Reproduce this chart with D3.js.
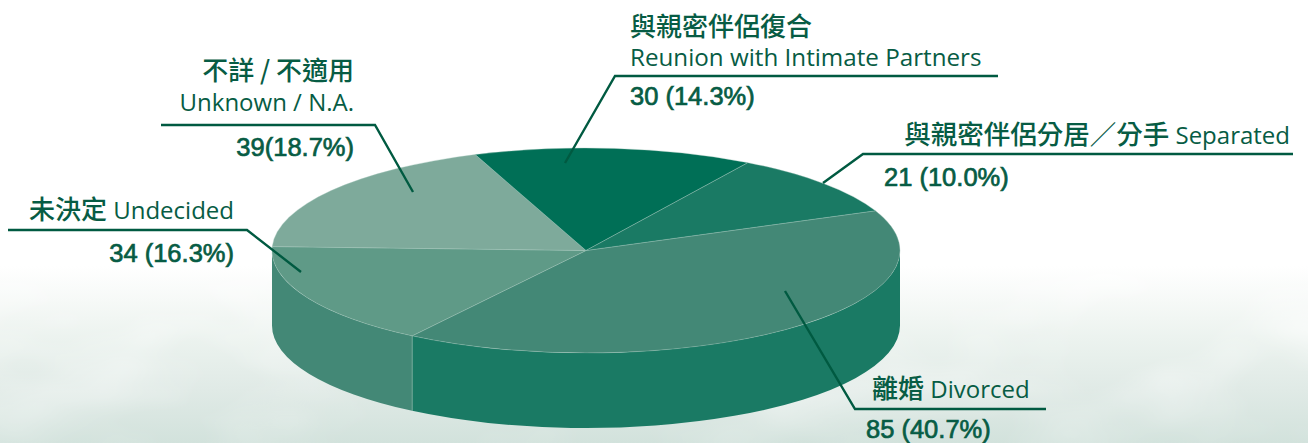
<!DOCTYPE html>
<html><head><meta charset="utf-8">
<script src="https://cdn.jsdelivr.net/npm/d3@7/dist/d3.min.js"></script>
<style>html,body{margin:0;padding:0;background:#fff}svg{display:block}</style>
</head><body><svg id="c" width="1308" height="443"></svg>
<script>
const categories = ["離婚 Divorced","未決定 Undecided","不詳 / 不適用 Unknown / N.A.","與親密伴侶復合 Reunion with Intimate Partners","與親密伴侶分居／分手 Separated"];
const counts = [85,34,39,30,21];
const valueLabels = ["85 (40.7%)","34 (16.3%)","39(18.7%)","30 (14.3%)","21 (10.0%)"];
const topColors = ["#438876","#5f9a87","#7eaa9b","#006f56","#1a7a64"];
const wallColors = ["#1a7a64","#438876","#7eaa9b","#006f56","#1a7a64"];

const W=1308,H=443,cx=586,cy=250.5,rx=314,ry=102.5,depth=75;
const ink="#075c44",lineInk="#005a41";
const CJK="'Noto Sans CJK TC','Noto Sans',sans-serif",LAT="'Open Sans','Noto Sans',sans-serif",NUM="'Liberation Sans',Arial,sans-serif";
const svg=d3.select("#c");
const defs=svg.append("defs");
const grad=defs.append("linearGradient").attr("id","bg").attr("x1",0).attr("x2",0).attr("y1",0).attr("y2",1);
[[0,"#ffffff"],[.6,"#ffffff"],[.68,"#f6f9f7"],[.76,"#ecf3ef"],[.88,"#e0eae6"],[1,"#d2e2dc"]].forEach(s=>grad.append("stop").attr("offset",s[0]).attr("stop-color",s[1]));
const f=defs.append("filter").attr("id","mottle").attr("x",0).attr("y",0).attr("width",1).attr("height",1);
f.append("feTurbulence").attr("type","fractalNoise").attr("baseFrequency","0.006 0.011").attr("numOctaves",3).attr("seed",11);
f.append("feColorMatrix").attr("values","0 0 0 0 1  0 0 0 0 1  0 0 0 0 1  1.5 0 0 0 -0.6");
const fade=defs.append("linearGradient").attr("id","fade").attr("x1",0).attr("x2",0).attr("y1",0).attr("y2",1);
[[0,0],[.2,.9],[.7,.6],[1,.3]].forEach(s=>fade.append("stop").attr("offset",s[0]).attr("stop-color","#fff").attr("stop-opacity",s[1]));
const m=defs.append("mask").attr("id","fm");
m.append("rect").attr("y",250).attr("width",W).attr("height",193).attr("fill","url(#fade)");

svg.append("rect").attr("width",W).attr("height",H).attr("fill","url(#bg)");
svg.append("g").attr("mask","url(#fm)").append("rect").attr("y",250).attr("width",W).attr("height",193).attr("filter","url(#mottle)");

const rad=d=>d*Math.PI/180, startT=-22.8;
const pie=d3.pie().sort(null).startAngle(rad(startT+90)).endAngle(rad(startT+450));
const arcs=pie(counts);
const k=ry/rx, D=depth/k;
const g=svg.append("g").attr("transform",`translate(${cx},${cy}) scale(1,${k})`);

function wall(a0,a1){
  const a=Math.max(a0,0),b=Math.min(a1,Math.PI);
  if(b<=a) return null;
  const p=d3.path();
  p.moveTo(rx*Math.cos(a),rx*Math.sin(a));
  p.arc(0,0,rx,a,b,false);
  p.lineTo(rx*Math.cos(b),rx*Math.sin(b)+D);
  p.arc(0,D,rx,b,a,true);
  p.closePath();
  return p.toString();
}
g.selectAll("path.wall").data(arcs.map(d=>({i:d.index,a:d.startAngle-Math.PI/2,b:d.endAngle-Math.PI/2}))).join("path")
 .attr("class","wall").attr("d",d=>wall(d.a,d.b)).attr("fill",d=>wallColors[d.i]);
const wallSeam=arcs[0].endAngle-Math.PI/2;
g.append("line").attr("x1",rx*Math.cos(wallSeam)).attr("x2",rx*Math.cos(wallSeam))
 .attr("y1",rx*Math.sin(wallSeam)).attr("y2",rx*Math.sin(wallSeam)+D)
 .attr("stroke","#8fb8aa").attr("stroke-width",.6).attr("vector-effect","non-scaling-stroke");
const arc=d3.arc().innerRadius(0).outerRadius(rx);
g.selectAll("path.top").data(arcs).join("path").attr("class","top").attr("d",arc)
 .attr("fill",d=>topColors[d.index]).attr("stroke","#a5c8bc").attr("stroke-width",.5).attr("stroke-opacity",.7)
 .attr("vector-effect","non-scaling-stroke");

const leaders=[
 [[785,291],[855,409],[1046,409]],
 [[301,272],[247,230],[8,230]],
 [[413,192],[375,125],[161,125]],
 [[565,163],[615,76],[998,76]],
 [[823,183],[863,154],[1293,154]]
];
const line=d3.line();
svg.selectAll("path.leader").data(leaders).join("path").attr("class","leader").attr("d",line)
 .attr("fill","none").attr("stroke",lineInk).attr("stroke-width",2.4);

function txt(x,y,anchor,runs){
  const t=svg.append("text").attr("x",x).attr("y",y).attr("text-anchor",anchor).attr("fill",ink);
  runs.forEach(r=>{
    const s=t.append("tspan").text(r[0]).attr("font-family",r[1]).attr("font-size",r[2]).attr("font-weight",r[3]||400);
    if(r[4]) s.attr("stroke",ink).attr("stroke-width",r[4]);
  });
  return t;
}
const zh=26, en=24, nu=25.5, sw=.7;
// Reunion
txt(630,36,"start",[["與親密伴侶復合",CJK,zh,500]]);
txt(630,66,"start",[["Reunion with Intimate Partners",LAT,24.2]]);
txt(630,105,"start",[[valueLabels[3],NUM,nu,400,sw]]);
// Unknown
txt(354,80,"end",[["不詳 / 不適用",CJK,zh,500]]);
txt(354,111,"end",[["Unknown / N.A.",LAT,en]]);
txt(354,156,"end",[[valueLabels[2],NUM,nu,400,sw]]);
// Undecided
txt(234,219,"end",[["未決定",CJK,zh,500],[" Undecided",LAT,en]]);
txt(234,262,"end",[[valueLabels[1],NUM,nu,400,sw]]);
// Separated
txt(1290,144,"end",[["與親密伴侶分居／分手",CJK,26.5,500],[" Separated",LAT,en]]);
txt(884,186,"start",[[valueLabels[4],NUM,nu,400,sw]]);
// Divorced
txt(872,398,"start",[["離婚",CJK,zh,500],[" Divorced",LAT,en]]);
txt(866,438,"start",[[valueLabels[0],NUM,nu,400,sw]]);
</script></body></html>
